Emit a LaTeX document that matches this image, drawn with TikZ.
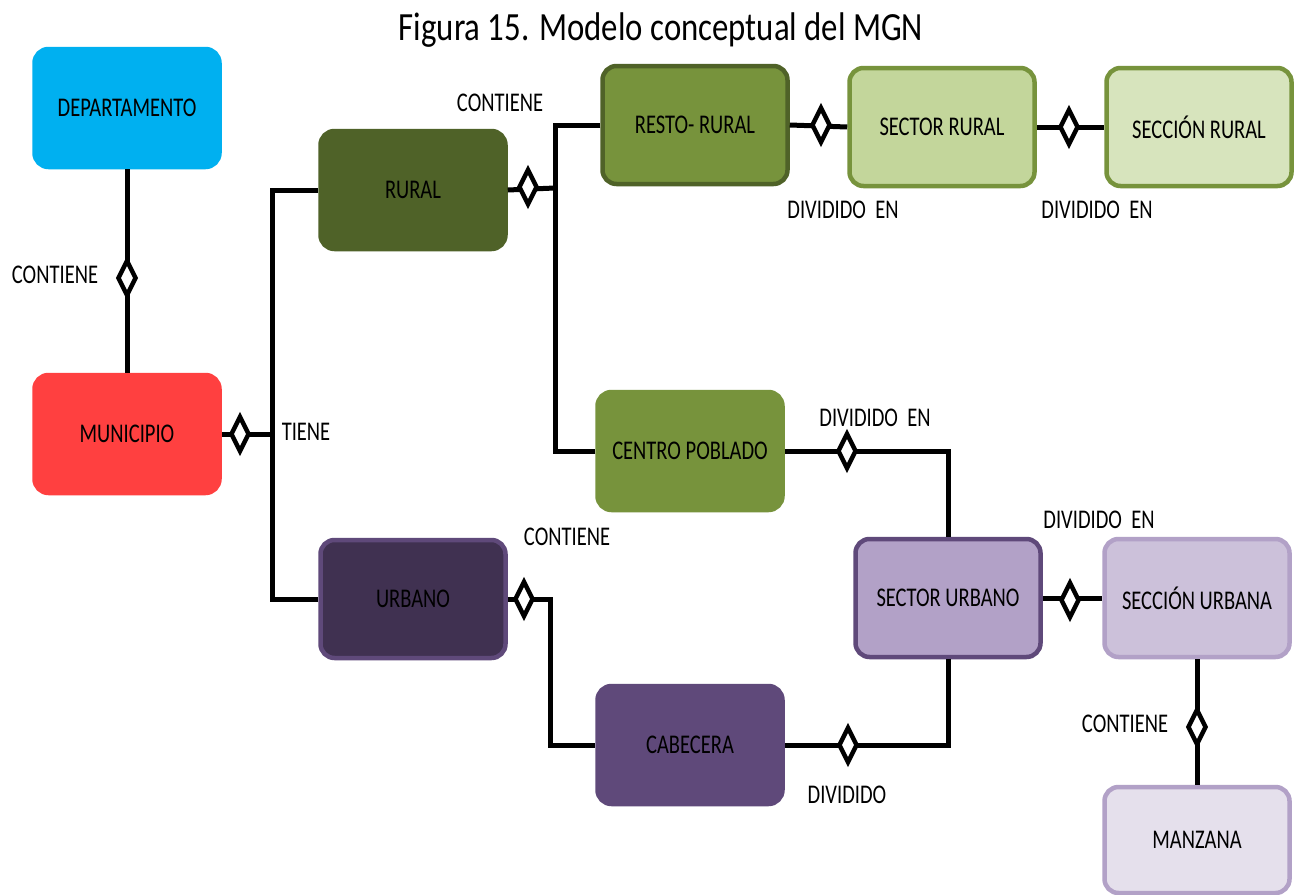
\documentclass[tikz,border=0pt]{standalone}
\usepackage{fontspec}
\setmainfont[FakeStretch=0.76]{Carlito}
\newfontfamily\titlefont[FakeStretch=0.82]{Carlito}
\usetikzlibrary{shapes.geometric}
\definecolor{cDept}{HTML}{00B0F0}
\definecolor{cMun}{HTML}{FF4040}
\definecolor{cRural}{HTML}{4F6228}
\definecolor{cUrb}{HTML}{403151}
\definecolor{cUrbB}{HTML}{5F497A}
\definecolor{cResto}{HTML}{77933C}
\definecolor{cSecR}{HTML}{C3D69B}
\definecolor{cSecc}{HTML}{D7E4BD}
\definecolor{cSU}{HTML}{B2A1C7}
\definecolor{cSeU}{HTML}{CCC1DA}
\definecolor{cManz}{HTML}{E5E0EC}
\tikzset{
  box/.style={rectangle, rounded corners=14pt, minimum width=185pt, minimum height=118pt,
    line width=4.5pt, inner sep=2pt, font=\fontsize{27}{30}\selectfont, text=black},
  dia/.style={diamond, draw=black, fill=white, line width=4.5pt, inner sep=0pt,
    minimum width=19pt, minimum height=36pt},
  conn/.style={draw=black, line width=5pt},
  lbl/.style={font=\fontsize{27}{30}\selectfont, inner sep=0pt, text=black}
}
\begin{document}
\begin{tikzpicture}[x=1pt,y=-1pt]
\useasboundingbox (0,0) rectangle (1295,894);
\fill[white] (0,0) rectangle (1295,894);

\node[inner sep=0pt, font=\titlefont\fontsize{40}{44}\selectfont] (title) at (661,30) {Figura 15. Modelo conceptual del MGN};

% boxes
\node[box, fill=cDept, draw=cDept] (dept) at (127,108) {DEPARTAMENTO};
\node[box, fill=cMun, draw=cMun] (mun) at (127,434) {MUNICIPIO};
\node[box, fill=cRural, draw=cRural] (rural) at (413,190) {RURAL};
\node[box, fill=cUrb, draw=cUrbB] (urb) at (413,599) {URBANO};
\node[box, fill=cResto, draw=cRural] (resto) at (695,125) {RESTO- RURAL};
\node[box, fill=cSecR, draw=cResto] (secr) at (942,127) {SECTOR RURAL};
\node[box, fill=cSecc, draw=cResto] (seccr) at (1199,127) {SECCIÓN RURAL};
\node[box, fill=cResto, draw=cResto] (centro) at (690,451) {CENTRO POBLADO};
\node[box, fill=cSU, draw=cUrbB] (secu) at (948,598) {SECTOR URBANO};
\node[box, fill=cSeU, draw=cSU] (seccu) at (1197,598) {SECCIÓN URBANA};
\node[box, fill=cUrbB, draw=cUrbB] (cab) at (690,745) {CABECERA};
\node[box, fill=cManz, draw=cSU, minimum height=106pt] (manz) at (1197,840) {MANZANA};

% junction coordinates
\coordinate (jm) at (272,434);
\coordinate (jr) at (555,188);
\coordinate (jc) at (948,451);
\coordinate (ju) at (550,599);
\coordinate (jb) at (948,745);

% connectors
\draw[conn] (dept.south) -- (mun.north);
\draw[conn] (mun.east) -- (jm);
\draw[conn] (rural.west) -| (jm);
\draw[conn] (urb.west) -| (jm);
\draw[conn] (rural.east) -- (jr);
\draw[conn] (resto.west) -| (jr);
\draw[conn] (centro.west) -| (jr);
\draw[conn] (resto.east) -- (secr.west);
\draw[conn] (secr.east) -- (seccr.west);
\draw[conn] (centro.east) -- (jc) -- (secu.north);
\draw[conn] (urb.east) -- (ju) |- (cab.west);
\draw[conn] (cab.east) -- (jb) -- (secu.south);
\draw[conn] (secu.east) -- (seccu.west);
\draw[conn] (seccu.south) -- (manz.north);

% diamonds
\node[dia] (d1) at (127,278) {};
\node[dia] (d2) at (240,434) {};
\node[dia] (d3) at (528,187) {};
\node[dia] (d4) at (821,125) {};
\node[dia] (d5) at (1069,127) {};
\node[dia] (d6) at (847,451) {};
\node[dia] (d7) at (524,599) {};
\node[dia] (d8) at (848,745) {};
\node[dia] (d9) at (1070,600) {};
\node[dia] (d10) at (1197,727) {};

% labels
\node[lbl] (l1) at (55,275) {CONTIENE};
\node[lbl] (l2) at (306,432) {TIENE};
\node[lbl] (l3) at (500,103) {CONTIENE};
\node[lbl] (l4) at (843,210) {DIVIDIDO\ \ EN};
\node[lbl] (l5) at (1097,210) {DIVIDIDO\ \ EN};
\node[lbl] (l6) at (875,418) {DIVIDIDO\ \ EN};
\node[lbl] (l7) at (567,537) {CONTIENE};
\node[lbl] (l8) at (847,795) {DIVIDIDO};
\node[lbl] (l9) at (1099,520) {DIVIDIDO\ \ EN};
\node[lbl] (l10) at (1125,724) {CONTIENE};
\end{tikzpicture}
\end{document}
